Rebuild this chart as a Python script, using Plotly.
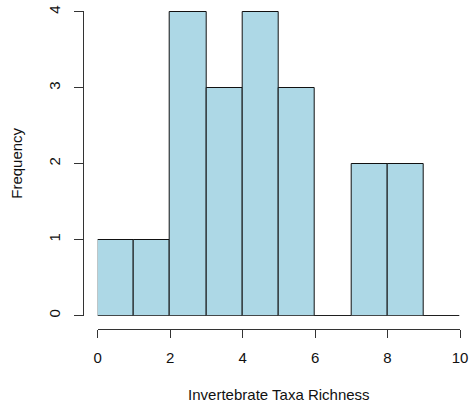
import plotly.graph_objects as go

# Histogram of invertebrate taxa richness (bins of width 1)
bin_edges = [0, 1, 2, 3, 4, 5, 6, 7, 8, 9, 10]
counts = [1, 1, 4, 3, 4, 3, 0, 2, 2, 0]
x_ticks = [0, 2, 4, 6, 8, 10]
y_ticks = [0, 1, 2, 3, 4]

centers = [(a + b) / 2 for a, b in zip(bin_edges[:-1], bin_edges[1:])]
widths = [b - a for a, b in zip(bin_edges[:-1], bin_edges[1:])]

font = dict(family="Liberation Sans, Arial, sans-serif", size=15, color="#111")
axis_col = "#333"

fig = go.Figure(
    go.Bar(
        x=centers,
        y=counts,
        width=widths,
        marker=dict(color="#ADD8E6", line=dict(color="#111", width=1)),
        hoverinfo="x+y",
    )
)

fig.update_layout(
    width=470,
    height=410,
    margin=dict(l=83, r=10, t=11, b=81, pad=0),
    plot_bgcolor="white",
    paper_bgcolor="white",
    font=font,
    showlegend=False,
    bargap=0,
    xaxis=dict(
        range=[0, 10],
        domain=[0.039, 1],
        anchor="free",
        position=0,
        tickmode="array",
        tickvals=x_ticks,
        ticks="outside",
        ticklen=8,
        tickwidth=1,
        tickcolor=axis_col,
        showline=True,
        linecolor=axis_col,
        linewidth=1,
        showgrid=False,
        zeroline=False,
        ticklabelstandoff=7,
        title=dict(text="Invertebrate Taxa Richness", standoff=24, font=font),
        automargin=False,
    ),
    yaxis=dict(
        range=[0, 4.01],
        domain=[0.042, 1],
        anchor="free",
        position=0,
        tickmode="array",
        tickvals=y_ticks,
        tickangle=-90,
        ticks="outside",
        ticklen=9,
        tickwidth=1,
        tickcolor=axis_col,
        showline=True,
        linecolor=axis_col,
        linewidth=1,
        showgrid=False,
        zeroline=False,
        ticklabelstandoff=8,
        title=dict(text="Frequency", standoff=18, font=font),
        automargin=False,
    ),
)

fig.write_html("out.html")
